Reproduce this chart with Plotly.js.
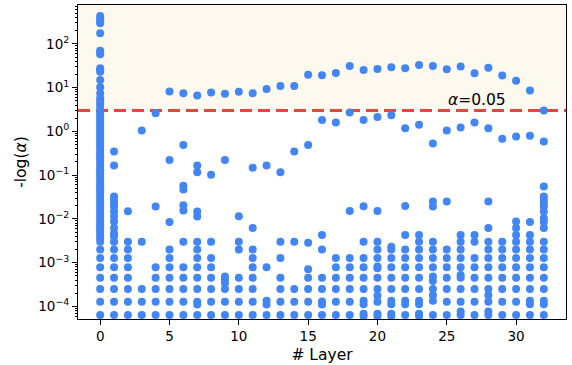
<!DOCTYPE html>
<html>
<head>
<meta charset="utf-8">
<script src="https://cdn.plot.ly/plotly-3.0.1.min.js"></script>
<style>html,body{margin:0;padding:0;background:#fff;}#chart{width:572px;height:365px;}</style>
</head>
<body>
<div id="chart"></div>
<script>
// -log(alpha) values for every layer
const layer00 = [434, 370, 333, 295, 175, 70, 63, 58, 27.7, 25.4, 23, 15, 10.2, 7.4, 5.7, 4.8, 4.2, 3.6,
  2.9, 2.5, 2.2, 1.9, 1.65, 1.45, 1.25, 1.1, 0.95, 0.83, 0.72, 0.63, 0.55, 0.48, 0.42, 0.36, 0.31, 0.27,
  0.24, 0.21, 0.18, 0.155, 0.135, 0.118, 0.103, 0.09, 0.078, 0.068, 0.059, 0.051, 0.045, 0.039, 0.034,
  0.029, 0.025, 0.022, 0.019, 0.0165, 0.0145, 0.0125, 0.011, 0.0095, 0.0083, 0.0072, 0.0063, 0.0055,
  0.0048, 0.0042, 0.0036, 0.003, 0.002, 0.00127, 0.00078, 0.00045, 0.00025, 0.000128, 0.000064];
const layer01 = [0.346, 0.166, 0.0325, 0.0273, 0.0229, 0.0192, 0.0148, 0.0113, 0.0087, 0.0062, 0.0047, 0.004, 0.003, 0.002, 0.00127, 0.00078, 0.00045, 0.00025, 0.000128, 0.000064];
const layer02 = [0.015, 0.003, 0.002, 0.00127, 0.00078, 0.00045, 0.00025, 0.000128, 0.000064];
const layer03 = [1.04, 0.003, 0.00025, 0.000128, 0.000064];
const layer04 = [2.6, 0.0192, 0.00078, 0.00045, 0.00025, 0.000128, 0.000064];
const layer05 = [8.1, 0.223, 0.00845, 0.002, 0.00127, 0.00078, 0.00045, 0.00025, 0.000128, 0.000064];
const layer06 = [7.45, 0.49, 0.057, 0.047, 0.0205, 0.0155, 0.003, 0.00078, 0.00045, 0.00025, 0.000128, 0.000064];
const layer07 = [6.6, 0.166, 0.116, 0.0148, 0.0114, 0.003, 0.002, 0.00127, 0.00078, 0.00045, 0.00025, 0.000128, 0.00011, 0.000064];
const layer08 = [7.7, 0.1016, 0.003, 0.00127, 0.00078, 0.00045, 0.00025, 0.000128, 0.000064];
const layer09 = [7.2, 0.223, 0.00048, 0.00041, 0.00034, 0.00025, 0.000128, 0.000064];
const layer10 = [8.0, 0.0115, 0.003, 0.002, 0.00045, 0.00025, 0.000128, 0.000064];
const layer11 = [7.45, 0.148, 0.0062, 0.002, 0.00127, 0.00078, 0.00045, 0.00025, 0.000128, 0.000064];
const layer12 = [9.3, 0.166, 0.00078, 0.000135, 0.00011, 0.000064];
const layer13 = [10.9, 0.116, 0.003, 0.00127, 0.00045, 0.00025, 0.000128, 0.000064];
const layer14 = [10.9, 0.345, 0.003, 0.00025, 0.000128, 0.000064];
const layer15 = [19.8, 0.49, 0.00285, 0.00071, 0.00045, 0.00025, 0.000128, 0.000064];
const layer16 = [19.2, 1.83, 0.0043, 0.002, 0.00045, 0.00025, 0.00013, 0.00011, 0.000064];
const layer17 = [21.7, 1.59, 0.00127, 0.00078, 0.00045, 0.00025, 0.000128, 0.000064];
const layer18 = [31.3, 2.69, 0.0152, 0.00127, 0.00078, 0.00045, 0.00025, 0.000128, 0.000064];
const layer19 = [25.4, 1.83, 0.0195, 0.003, 0.00127, 0.00078, 0.00045, 0.00025, 0.000135, 0.000112, 0.000068, 0.00006];
const layer20 = [26.7, 2.12, 0.0152, 0.003, 0.002, 0.00127, 0.00082, 0.00074, 0.00045, 0.00025, 0.000175, 0.000128, 0.000068, 0.00006];
const layer21 = [29.2, 2.34, 0.0023, 0.002, 0.00127, 0.00078, 0.00045, 0.00025, 0.000135, 0.000112, 0.000068, 0.00006];
const layer22 = [27.7, 1.18, 0.0197, 0.0043, 0.002, 0.00127, 0.00078, 0.00045, 0.00025, 0.000135, 0.000112, 0.000064];
const layer23 = [33, 1.41, 0.0043, 0.003, 0.002, 0.00127, 0.00078, 0.00045, 0.00025, 0.000135, 0.000112, 0.000068, 0.00006];
const layer24 = [31.3, 0.53, 0.025, 0.0192, 0.003, 0.002, 0.00127, 0.00078, 0.00048, 0.00038, 0.00025, 0.00018, 0.000135, 0.000064];
const layer25 = [26.3, 1.04, 0.025, 0.002, 0.00127, 0.00078, 0.00045, 0.00025, 0.000128, 0.000064];
const layer26 = [30.2, 1.23, 0.0043, 0.003, 0.002, 0.00127, 0.00078, 0.00052, 0.00045, 0.00025, 0.000128, 0.000076, 0.000064];
const layer27 = [21.3, 1.59, 0.0043, 0.003, 0.00127, 0.00078, 0.00045, 0.00025, 0.000128, 0.000064];
const layer28 = [28.6, 1.18, 0.025, 0.0062, 0.003, 0.002, 0.00127, 0.00078, 0.00045, 0.00025, 0.00018, 0.000128, 0.000076, 0.000064];
const layer29 = [18.8, 0.674, 0.003, 0.002, 0.00127, 0.00078, 0.00045, 0.00025, 0.000128, 0.000064];
const layer30 = [14.4, 0.76, 0.0087, 0.0062, 0.0043, 0.003, 0.002, 0.00127, 0.00078, 0.00045, 0.00025, 0.000128, 0.000064];
const layer31 = [8.55, 0.79, 0.0085, 0.0043, 0.003, 0.002, 0.00127, 0.00078, 0.00045, 0.00025, 0.000135, 0.000112, 0.000064];
const layer32 = [2.98, 0.585, 0.055, 0.0325, 0.027, 0.023, 0.0192, 0.0148, 0.0104, 0.0085, 0.0062, 0.003, 0.002, 0.00127, 0.00078, 0.00045, 0.00025, 0.000135, 0.000112, 0.000064];

const layerValues = [layer00, layer01, layer02, layer03, layer04, layer05, layer06, layer07, layer08, layer09,
  layer10, layer11, layer12, layer13, layer14, layer15, layer16, layer17, layer18, layer19, layer20, layer21,
  layer22, layer23, layer24, layer25, layer26, layer27, layer28, layer29, layer30, layer31, layer32];

const xTicks = [0, 5, 10, 15, 20, 25, 30];
const yExponents = [-4, -3, -2, -1, 0, 1, 2];
const alpha = 0.05;
const threshold = -Math.log(alpha);

const xs = [], ys = [];
layerValues.forEach((vals, i) => vals.forEach(v => { xs.push(i); ys.push(v); }));

const yRange = [-4.288, 2.888];
const yTickVals = yExponents.map(e => Math.pow(10, e));
const yTickText = yExponents.map(e => '10<sup>' + String(e).replace('-', '\u2212') + '</sup>');
const minorVals = [];
for (let e = -5; e <= 2; e++) for (let m = 2; m <= 9; m++) minorVals.push(m * Math.pow(10, e));

const font = {family: 'DejaVu Sans, sans-serif', size: 13, color: '#000'};

const trace = {
  type: 'scatter', mode: 'markers', x: xs, y: ys,
  marker: {color: '#4285f4', size: 8, line: {width: 0}},
  hoverinfo: 'skip', showlegend: false
};
const minorAxisTrace = {type: 'scatter', mode: 'markers', x: [], y: [], yaxis: 'y2', hoverinfo: 'skip', showlegend: false};

const layout = {
  width: 572, height: 365,
  margin: {l: 78, r: 6, t: 5, b: 46},
  paper_bgcolor: '#fff', plot_bgcolor: '#fff',
  font: font,
  showlegend: false,
  xaxis: {
    range: [-1.6, 33.6], tickvals: xTicks, ticks: 'outside', ticklen: 5, tickwidth: 1, tickcolor: '#000',
    showline: true, mirror: true, linecolor: '#000', linewidth: 1, showgrid: false, zeroline: false,
    tickfont: {size: 13.5}, title: {text: '# Layer', font: {size: 15.5}, standoff: 5}
  },
  yaxis: {
    type: 'log', range: yRange, tickvals: yTickVals, ticktext: yTickText,
    ticks: 'outside', ticklen: 5, tickwidth: 1, tickcolor: '#000',
    showline: true, mirror: true, linecolor: '#000', linewidth: 1, showgrid: false, zeroline: false,
    tickfont: {size: 13.5}, title: {text: '-log(<i>α</i>)', font: {size: 15.5}, standoff: 7}
  },
  yaxis2: {
    type: 'log', range: yRange, overlaying: 'y', side: 'left', tickvals: minorVals,
    ticktext: minorVals.map(() => ''), ticks: 'outside', ticklen: 2.5, tickwidth: 1, tickcolor: '#000',
    showline: false, showgrid: false, zeroline: false, showticklabels: false
  },
  shapes: [
    {type: 'rect', xref: 'paper', x0: 0, x1: 1, yref: 'y', y0: threshold, y1: Math.pow(10, yRange[1]),
     fillcolor: '#fdf9ef', line: {width: 0}, layer: 'below'},
    {type: 'line', xref: 'paper', x0: 0, x1: 1, yref: 'y', y0: threshold, y1: threshold,
     line: {color: '#e8453c', width: 3, dash: '12px,6px'}, layer: 'below'}
  ],
  annotations: [
    {x: 25, xref: 'x', y: Math.log10(threshold), yref: 'y', xanchor: 'left', yanchor: 'bottom',
     text: '<i>α</i>=0.05', showarrow: false, font: {size: 15.5}, yshift: 0, xshift: -1}
  ]
};

Plotly.newPlot('chart', [trace, minorAxisTrace], layout, {displayModeBar: false, staticPlot: true});
</script>
</body>
</html>
